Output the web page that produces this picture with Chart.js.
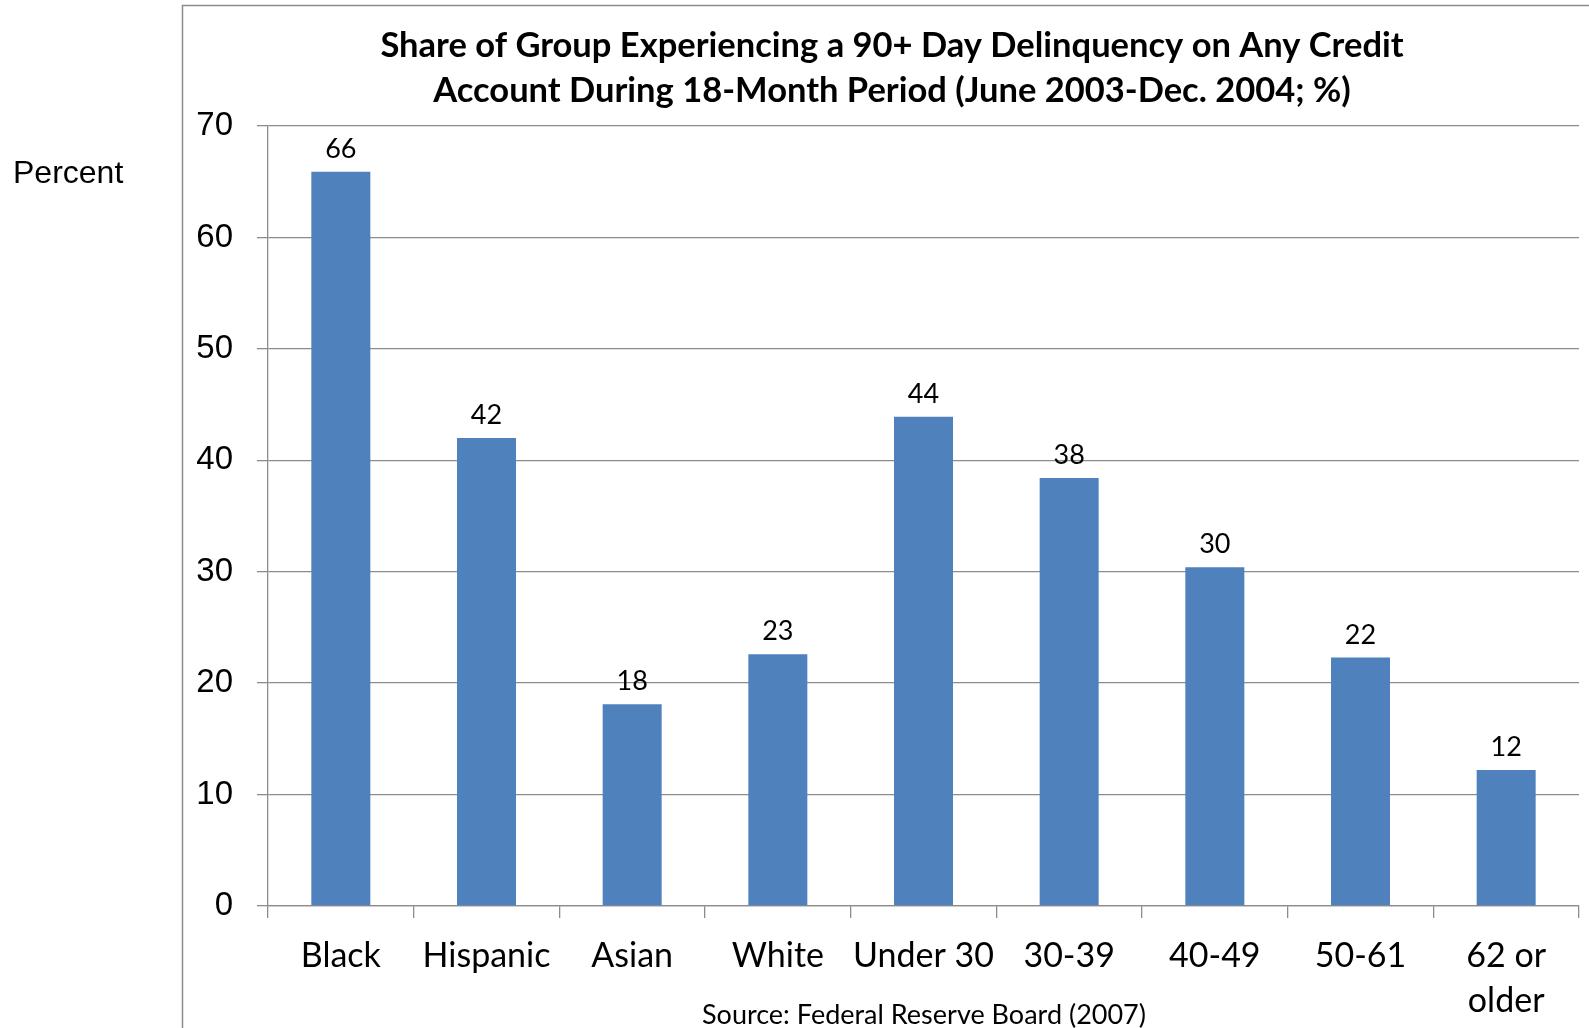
<!DOCTYPE html>
<html>
<head>
<meta charset="utf-8">
<script src="https://cdn.jsdelivr.net/npm/chart.js@4/dist/chart.umd.min.js"></script>
<style>
  html, body { margin: 0; padding: 0; background: #fff; }
  canvas { display: block; }
</style>
</head>
<body>
<canvas id="myChart" width="1589" height="1028"></canvas>
<script>
// chart data
const categories = ["Black", "Hispanic", "Asian", "White", "Under 30", "30-39", "40-49", "50-61", ["62 or", "older"]];
const shareValues = [65.9, 42, 18.1, 22.6, 43.9, 38.4, 30.4, 22.3, 12.2];
const valueLabels = [66, 42, 18, 23, 44, 38, 30, 22, 12];
const yTickValues = [0, 10, 20, 30, 40, 50, 60, 70];
const titleLines = [
  "Share of Group Experiencing a 90+ Day Delinquency on Any Credit",
  "Account During 18-Month Period (June 2003-Dec. 2004; %)"
];
const yAxisLabel = "Percent";
const sourceText = "Source: Federal Reserve Board (2007)";

const barColor = "#4F81BD";
const lineColor = "#8C8C8C";
const ctx = document.getElementById("myChart").getContext("2d");

// frame, title, axis label and source note
const decorPlugin = {
  id: "decor",
  beforeDraw(chart) {
    const c = chart.ctx;
    c.save();
    c.strokeStyle = "#8C8C8C";
    c.lineWidth = 1.5;
    c.beginPath();
    c.moveTo(182.5, 1028);
    c.lineTo(182.5, 5.5);
    c.lineTo(1589, 5.5);
    c.stroke();
    c.restore();
  },
  afterDraw(chart) {
    const c = chart.ctx;
    c.save();
    c.fillStyle = "#000";
    c.textAlign = "center";
    c.textBaseline = "middle";
    c.font = "bold 34.5px Lato";
    c.fillText(titleLines[0], 892, 46);
    c.fillText(titleLines[1], 892, 91);
    c.font = "27px Lato";
    c.fillText(sourceText, 924, 1015);
    c.textAlign = "left";
    c.font = "32px 'Liberation Sans'";
    c.fillText(yAxisLabel, 13, 174);
    c.restore();
  }
};

// numbers above the bars
const valueLabelPlugin = {
  id: "valueLabels",
  afterDatasetsDraw(chart) {
    const c = chart.ctx;
    const meta = chart.getDatasetMeta(0);
    c.save();
    c.fillStyle = "#000";
    c.font = "27px Lato";
    c.textAlign = "center";
    c.textBaseline = "alphabetic";
    meta.data.forEach((bar, i) => {
      c.fillText(String(valueLabels[i]), bar.x, bar.y - 14);
    });
    c.restore();
  }
};

new Chart(ctx, {
  type: "bar",
  data: {
    labels: categories,
    datasets: [{
      data: shareValues,
      backgroundColor: barColor,
      borderWidth: 0,
      barPercentage: 0.405,
      categoryPercentage: 1
    }]
  },
  options: {
    responsive: false,
    animation: false,
    events: [],
    layout: { padding: { left: 0, top: 126, right: 10, bottom: 0 } },
    plugins: {
      legend: { display: false },
      title: { display: false },
      tooltip: { enabled: false }
    },
    scales: {
      x: {
        grid: {
          offset: true,
          drawOnChartArea: false,
          drawTicks: true,
          tickLength: 12,
          color: lineColor,
          lineWidth: 1.3
        },
        border: { display: true, color: lineColor, width: 1.3 },
        ticks: {
          color: "#000",
          font: { family: "Lato", size: 34, lineHeight: 1.32 },
          padding: 16,
          maxRotation: 0,
          autoSkip: false
        },
        afterFit(scale) { scale.height = 122; }
      },
      y: {
        min: 0,
        max: 70,
        afterBuildTicks(scale) {
          scale.ticks = yTickValues.map(v => ({ value: v }));
        },
        grid: {
          color: lineColor,
          lineWidth: 1.3,
          drawTicks: true,
          tickLength: 11
        },
        border: { display: true, color: lineColor, width: 1.3 },
        ticks: {
          color: "#000",
          font: { family: "Liberation Sans", size: 33 },
          padding: 24
        },
        afterFit(scale) { scale.width = 268; }
      }
    }
  },
  plugins: [decorPlugin, valueLabelPlugin]
});
</script>
</body>
</html>
